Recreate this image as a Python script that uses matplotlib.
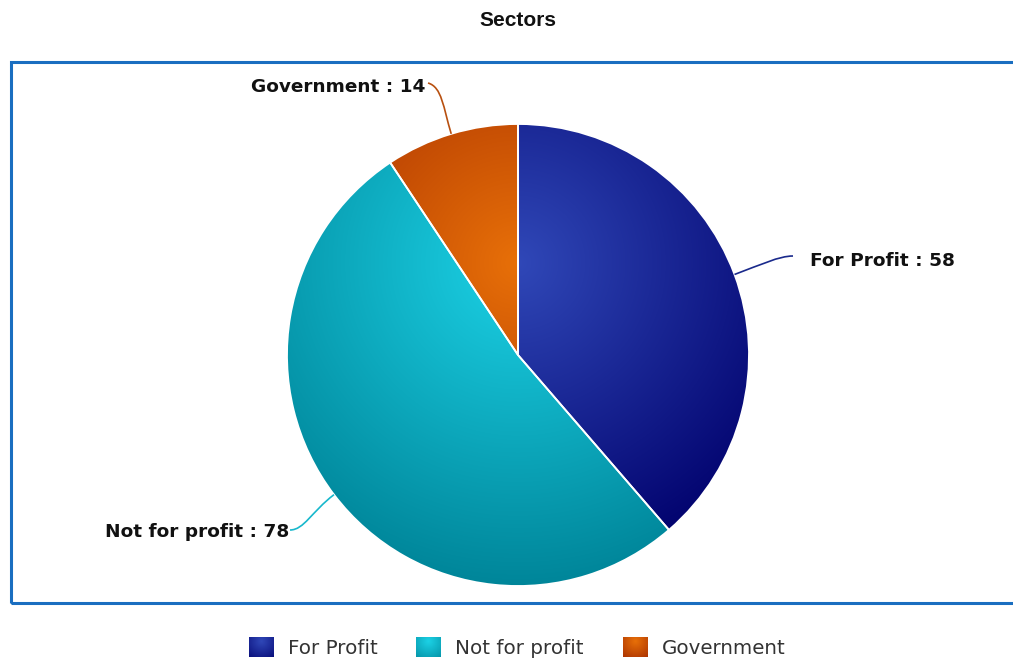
import numpy as np
import matplotlib.pyplot as plt
from matplotlib.patches import Rectangle
from matplotlib.path import Path
from matplotlib.patches import PathPatch
from matplotlib.colors import to_rgb

# sector counts
sectors = ["For Profit", "Not for profit", "Government"]
counts = [58, 78, 14]
base_colors = ["#3048b8", "#1cd2e6", "#e87008"]

W, H = 1013, 659
fig = plt.figure(figsize=(W / 100, H / 100), dpi=100)
ax = fig.add_axes([0, 0, 1, 1])


def Y(y):
    # pixel row (from top) -> data y
    return H - y


cx, cy, r = 518, Y(355), 231


def gradient_img(color, gx, gy, grad_r, extent, n=300):
    # radial gradient: base colour at the focus, 30% darker at the rim
    x0, x1, y0, y1 = extent
    xs = np.linspace(x0, x1, n)
    ys = np.linspace(y0, y1, n)
    xx, yy = np.meshgrid(xs, ys)
    t = np.clip(np.hypot(xx - gx, yy - gy) / grad_r, 0, 1)[..., None]
    c0 = np.array(to_rgb(color))
    c1 = np.clip(c0 - 0.3, 0, 1)
    return c0 * (1 - t) + c1 * t


wedges, _ = ax.pie(counts, startangle=90, counterclock=False, center=(cx, cy),
                   radius=r, colors=base_colors,
                   wedgeprops=dict(edgecolor="white", linewidth=1.3))

ext = (cx - r, cx + r, cy - r, cy + r)
for w, col in zip(wedges, base_colors):
    img = gradient_img(col, cx, cy + 0.4 * r, 1.4 * r, ext)
    im = ax.imshow(img, extent=ext, origin="lower", zorder=2, interpolation="bilinear")
    im.set_clip_path(w)
    w.set_facecolor("none")
    w.set_zorder(3)

# data labels with curved connectors
label_pos = [(810, 261, "left"), (289, 532, "right"), (425, 87, "right")]
conn_end = [(793, 256), (290, 530), (428, 83)]
line_colors = ["#1a2a8c", "#18b8cc", "#b85010"]

for w, name, val, (lx, ly, ha), (ex, ey), lc in zip(wedges, sectors, counts, label_pos,
                                                   conn_end, line_colors):
    mid = np.deg2rad((w.theta1 + w.theta2) / 2)
    dx, dy = np.cos(mid), np.sin(mid)
    p0 = (cx + r * dx, cy + r * dy)
    p1 = (cx + (r + 28) * dx, cy + (r + 28) * dy)
    e = (ex, Y(ey))
    side = 1 if ex > cx else -1
    p2 = (e[0] - side * 14, e[1] - 4 if abs(dy) > 0.9 else e[1])
    path = Path([p0, p1, p2, e], [Path.MOVETO, Path.CURVE4, Path.CURVE4, Path.CURVE4])
    ax.add_patch(PathPatch(path, fill=False, edgecolor=lc, linewidth=1.2, zorder=4))
    ax.text(lx, Y(ly), f"{name} : {val}", ha=ha, va="center", fontsize=13.3,
            fontweight="bold", family="DejaVu Sans", color="#111111", zorder=5)

# plot area frame
ax.add_patch(Rectangle((10.5, Y(603)), 1013, 603 - 62, fill=False,
                       edgecolor="#1a6ec0", linewidth=2.2, zorder=1))

ax.text(518, Y(20), "Sectors", ha="center", va="center", fontsize=15,
        fontweight="bold", family="Liberation Sans", color="#111111")

# legend
leg_x = [249, 416, 623]
for x, name, col in zip(leg_x, sectors, base_colors):
    sq = (x, x + 25, Y(657), Y(637))
    img = gradient_img(col, x + 12.5, Y(641), 26, sq, n=40)
    ax.imshow(img, extent=sq, origin="lower", zorder=2, interpolation="bilinear")
    ax.text(x + 39, Y(648), name, ha="left", va="center", fontsize=14.3,
            family="DejaVu Sans", color="#333333")

ax.set_xlim(0, W)
ax.set_ylim(0, H)
ax.set_aspect("auto")
ax.axis("off")

fig.savefig("out.png", dpi=100)
